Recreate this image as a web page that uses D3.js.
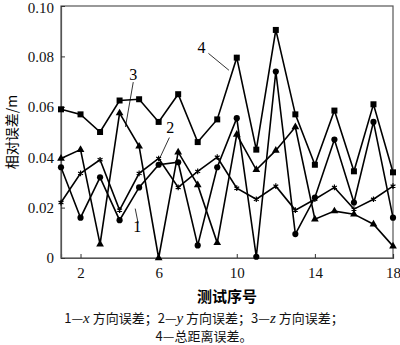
<!DOCTYPE html>
<html>
<head>
<meta charset="utf-8">
<script src="https://cdn.jsdelivr.net/npm/d3@7"></script>
<style>
body { margin: 0; background: #fff; }
</style>
</head>
<body>
<div id="chart-area"></div>
<script>
// test number 1..18
var testNo = d3.range(1, 19);
var xTicks = [2, 6, 10, 14, 18];
var yTicks = [0, 0.02, 0.04, 0.06, 0.08, 0.10];

// 1 - x direction error (circles)
var errX = [0.036, 0.016, 0.032, 0.015, 0.028, 0.037, 0.038, 0.005, 0.036, 0.0555,
	0.0005, 0.074, 0.0095, 0.024, 0.047, 0.022, 0.054, 0.016];
// 2 - y direction error (stars)
var errY = [0.022, 0.0336, 0.039, 0.019, 0.0336, 0.0395, 0.028, 0.0344, 0.040, 0.0277,
	0.0233, 0.0285, 0.019, 0.0233, 0.028, 0.0194, 0.0233, 0.0285];
// 3 - z direction error (triangles)
var errZ = [0.0395, 0.043, 0.0055, 0.0575, 0.0443, 0.0, 0.042, 0.029, 0.006, 0.049,
	0.035, 0.0427, 0.052, 0.0154, 0.0186, 0.0174, 0.0134, 0.0047];
// 4 - total distance error (squares)
var errTotal = [0.059, 0.057, 0.050, 0.0625, 0.063, 0.054, 0.065, 0.046, 0.055, 0.0795,
	0.043, 0.0905, 0.057, 0.037, 0.0585, 0.0344, 0.061, 0.034];

var mwidth = 400, mheight = 345;
var margin = {top: 6, right: 7, bottom: 87, left: 61};
var w = mwidth - margin.left - margin.right;
var h = mheight - margin.top - margin.bottom;

var svg = d3.select("#chart-area").append("svg")
	.attr("width", mwidth)
	.attr("height", mheight);

var g = svg.append("g")
	.attr("transform", "translate(" + margin.left + "," + margin.top + ")");

var x = d3.scaleLinear().domain([1, 18]).range([0, w]);
var y = d3.scaleLinear().domain([0, 0.10]).range([h, 0]);

var serif = "'Liberation Serif', 'Times New Roman', serif";
var cjk = "'Noto Sans CJK SC', sans-serif";

// frame
g.append("rect")
	.attr("width", w).attr("height", h)
	.attr("fill", "none").attr("stroke", "#555").attr("stroke-width", 1.2);

var xAxis = g.append("g")
	.attr("transform", "translate(0," + h + ")")
	.call(d3.axisBottom(x).tickValues(xTicks).tickSize(-4).tickPadding(7).tickFormat(d3.format("d")));
var yAxis = g.append("g")
	.call(d3.axisLeft(y).tickValues(yTicks).tickSize(-4).tickPadding(7)
		.tickFormat((d) => { return d === 0 ? "0" : d3.format(".2f")(d); }));

[xAxis, yAxis].forEach((a) => {
	a.select(".domain").attr("stroke", "#555").attr("stroke-width", 1.2);
	a.selectAll(".tick line").attr("stroke", "#333");
	a.selectAll(".tick text")
		.attr("font-family", serif).attr("font-size", "15px").attr("fill", "#111");
});
xAxis.selectAll(".tick text").attr("dy", "0.85em");
// keep the top label inside the page
yAxis.selectAll(".tick text").filter((d) => { return d === 0.10; }).attr("dy", "0.42em");

var series = [
	{vals: errX, sym: d3.symbolCircle, size: 30},
	{vals: errY, sym: d3.symbolAsterisk, size: 22},
	{vals: errZ, sym: d3.symbolTriangle, size: 26},
	{vals: errTotal, sym: d3.symbolSquare, size: 36}
];

var line = d3.line()
	.x((d, i) => { return x(testNo[i]); })
	.y((d) => { return y(d); });

series.forEach((s) => {
	g.append("path")
		.attr("d", line(s.vals))
		.attr("fill", "none").attr("stroke", "#000").attr("stroke-width", 1.6);
	g.selectAll(null).data(s.vals).enter().append("path")
		.attr("transform", (d, i) => { return "translate(" + x(testNo[i]) + "," + y(d) + ")"; })
		.attr("d", d3.symbol().type(s.sym).size(s.size))
		.attr("fill", "#000").attr("stroke", "#000")
		.attr("stroke-width", s.sym === d3.symbolAsterisk ? 1.2 : 0);
});

// series labels with leader lines (positions in data units)
var labels = [
	{t: "1", lx: 4.9, ly: 0.0105, x1: 4.95, y1: 0.0138, x2: 4.8, y2: 0.0196},
	{t: "2", lx: 6.6, ly: 0.0496, x1: 6.55, y1: 0.0478, x2: 6.05, y2: 0.0395},
	{t: "3", lx: 4.7, ly: 0.0705, x1: 4.7, y1: 0.0698, x2: 4.3, y2: 0.052},
	{t: "4", lx: 8.2, ly: 0.0815, x1: 8.55, y1: 0.0812, x2: 9.6, y2: 0.0745}
];
labels.forEach((l) => {
	g.append("line")
		.attr("x1", x(l.x1)).attr("y1", y(l.y1))
		.attr("x2", x(l.x2)).attr("y2", y(l.y2))
		.attr("stroke", "#000").attr("stroke-width", 0.8);
	g.append("text")
		.attr("x", x(l.lx)).attr("y", y(l.ly))
		.attr("text-anchor", "middle")
		.attr("font-family", serif).attr("font-size", "16px")
		.text(l.t);
});

// axis titles
svg.append("text")
	.attr("x", margin.left + w / 2).attr("y", 302)
	.attr("text-anchor", "middle")
	.attr("font-family", cjk).attr("font-weight", "bold").attr("font-size", "15px")
	.text("测试序号");

svg.append("text")
	.attr("transform", "translate(17," + (margin.top + h / 2) + ") rotate(-90)")
	.attr("text-anchor", "middle")
	.attr("font-family", cjk).attr("font-size", "14px")
	.text("相对误差/m");

// caption
var cap1 = svg.append("text")
	.attr("x", 204).attr("y", 323)
	.attr("text-anchor", "middle")
	.attr("font-family", cjk).attr("font-size", "13px").attr("fill", "#111");
[["1—", null], ["x", "i"], [" 方向误差；2—", null], ["y", "i"], [" 方向误差；3—", null], ["z", "i"], [" 方向误差；", null]]
	.forEach((p) => {
		var ts = cap1.append("tspan").text(p[0]);
		if (p[1]) ts.attr("font-family", serif).attr("font-style", "italic").attr("font-size", "15px");
	});
svg.append("text")
	.attr("x", 204).attr("y", 341)
	.attr("text-anchor", "middle")
	.attr("font-family", cjk).attr("font-size", "13px").attr("fill", "#111")
	.text("4—总距离误差。");
</script>
</body>
</html>
